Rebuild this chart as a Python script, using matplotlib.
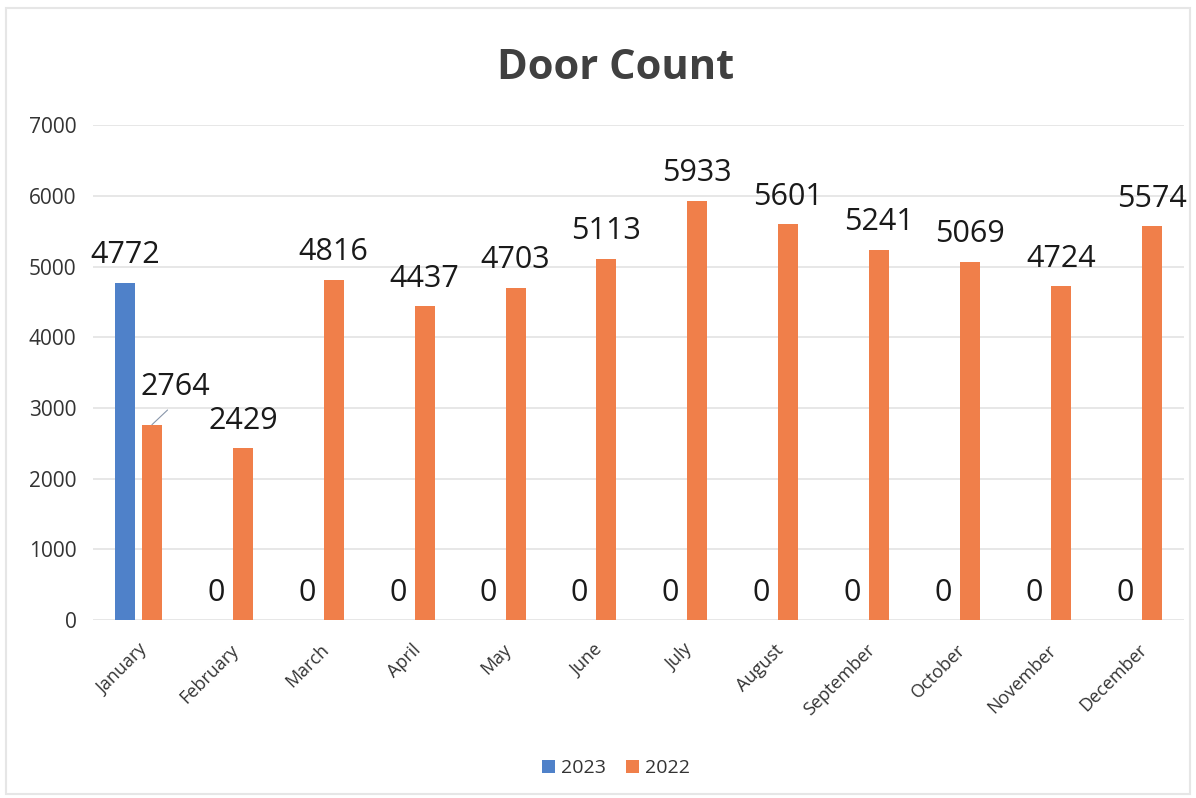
import matplotlib.pyplot as plt
from matplotlib.patches import Rectangle

months = ['January', 'February', 'March', 'April', 'May', 'June', 'July',
          'August', 'September', 'October', 'November', 'December']
counts_2023 = [4772, 0, 0, 0, 0, 0, 0, 0, 0, 0, 0, 0]
counts_2022 = [2764, 2429, 4816, 4437, 4703, 5113, 5933, 5601, 5241, 5069, 4724, 5574]
yticks = [0, 1000, 2000, 3000, 4000, 5000, 6000, 7000]

blue = '#4F81C9'
orange = '#F07F4A'
font = ['Open Sans', 'DejaVu Sans']

plt.rcParams['font.family'] = font

fig = plt.figure(figsize=(11.96, 7.98), dpi=100)
fig.patches.append(Rectangle((0.005, 0.005), 0.99, 0.985, transform=fig.transFigure,
                             fill=False, edgecolor='#E6E6E6', linewidth=1.5))
ax = fig.add_axes([0.0778, 0.223, 0.912, 0.62])

x = list(range(len(months)))
off = 0.148
w = 0.22
ax.bar([i - off for i in x], counts_2023, w, color=blue, label='2023', zorder=3)
ax.bar([i + off for i in x], counts_2022, w, color=orange, label='2022', zorder=3)

# data labels
lbl = dict(fontsize=22, color='#1a1a1a')
for i, v in enumerate(counts_2023):
    ax.annotate(str(v), (i - off, v), xytext=(0, 9), textcoords='offset points',
                ha='center', va='bottom', **lbl)
for i, v in enumerate(counts_2022):
    if i == 0:
        # moved label with leader line, like in the source
        ax.annotate(str(v), (i + off, v), xytext=(17, 16), textcoords='offset points',
                    ha='center', va='bottom', **lbl,
                    arrowprops=dict(arrowstyle='-', color='#8896AA', lw=0.8,
                                    shrinkA=5, shrinkB=0, relpos=(0.5, 0)))
    else:
        ax.annotate(str(v), (i + off, v), xytext=(0, 9), textcoords='offset points',
                    ha='center', va='bottom', **lbl)

ax.set_xlim(-0.5, len(months) - 0.5)
ax.set_ylim(0, 7000)
ax.set_yticks(yticks)
ax.set_xticks(x)
ax.set_xticklabels(months, rotation=45, ha='right', rotation_mode='anchor',
                   fontsize=13, color='#333333')
ax.tick_params(axis='y', labelsize=15, labelcolor='#333333', length=0, pad=12)
ax.tick_params(axis='x', length=0, pad=15)
ax.grid(axis='y', color='#E3E3E3', linewidth=1.2, zorder=0)
for s in ax.spines.values():
    s.set_visible(False)

fig.suptitle('Door Count', x=0.515, y=0.94, fontsize=30, fontweight='bold', color='#404040')

fig.legend(loc='center', bbox_to_anchor=(0.515, 0.037), ncol=2, frameon=False,
           fontsize=14, handlelength=0.7, handleheight=0.7, handletextpad=0.3,
           columnspacing=1.0, labelcolor='#333333')

fig.savefig('out.png', dpi=100)
